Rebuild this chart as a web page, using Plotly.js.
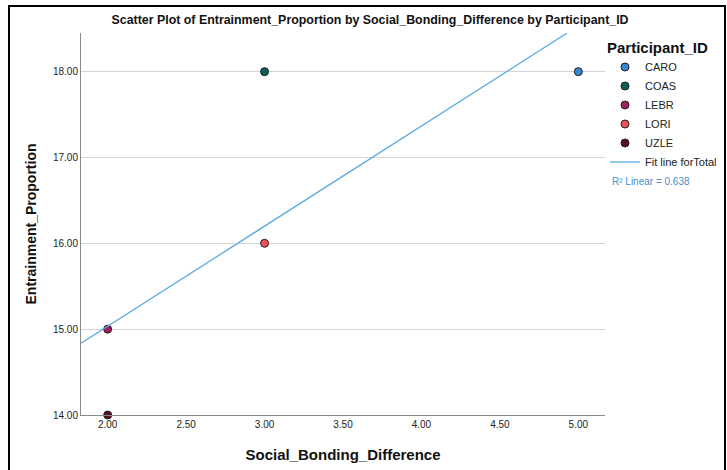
<!DOCTYPE html>
<html>
<head>
<meta charset="utf-8">
<script src="https://cdn.plot.ly/plotly-3.0.1.min.js"></script>
<style>
html,body{margin:0;padding:0;background:#fff;}
#chart{width:727px;height:470px;position:absolute;left:0;top:0;}
#frame{position:absolute;left:8px;top:5px;width:714px;height:480px;border:2px solid #000;border-bottom:none;pointer-events:none;}
</style>
</head>
<body>
<div id="chart"></div>
<div id="frame"></div>
<script>
const participants = ["CARO", "COAS", "LEBR", "LORI", "UZLE"];
const socialBonding = [5, 3, 2, 3, 2];
const entrainment = [18, 18, 15, 16, 14];
const colors = ["#3b87d1", "#0e5d56", "#a11f5c", "#ec5257", "#5a0f1c"];
const xRange = [1.83, 5.17];
const yRange = [14, 18.45];
const xTicks = [2.0, 2.5, 3.0, 3.5, 4.0, 4.5, 5.0];
const yTicks = [14, 15, 16, 17, 18];

const n = socialBonding.length;
const mx = socialBonding.reduce((a,b)=>a+b,0)/n;
const my = entrainment.reduce((a,b)=>a+b,0)/n;
let sxy=0, sxx=0, syy=0;
for(let i=0;i<n;i++){sxy+=(socialBonding[i]-mx)*(entrainment[i]-my);sxx+=(socialBonding[i]-mx)**2;syy+=(entrainment[i]-my)**2;}
const slope = sxy/sxx, intercept = my - slope*mx;
const r2 = sxy*sxy/(sxx*syy);
const xEnd = (yRange[1]-intercept)/slope;
const fitX = [xRange[0], xEnd];
const fitY = fitX.map(x=>intercept+slope*x);

const font = "Liberation Sans, Arial, sans-serif";
const traces = participants.map((p,i)=>({
  type:"scatter", mode:"markers", name:p,
  x:[socialBonding[i]], y:[entrainment[i]],
  marker:{color:colors[i], size:8, line:{color:"#222", width:1}},
  cliponaxis:false
}));
traces.push({type:"scatter", mode:"lines", name:"Fit line forTotal", x:fitX, y:fitY,
  line:{color:"#5aaadf", width:1.3}, hoverinfo:"skip"});

const layout = {
  width:727, height:470,
  margin:{l:81, r:122, t:33, b:55, autoexpand:false},
  paper_bgcolor:"#fff", plot_bgcolor:"#fff",
  title:{text:"<b>Scatter Plot of Entrainment_Proportion by Social_Bonding_Difference by Participant_ID</b>",
    font:{family:font, size:12.4, color:"#111"}, x:0.509, xanchor:"center", y:0.958, yanchor:"middle"},
  xaxis:{range:xRange, tickvals:xTicks, ticktext:xTicks.map(v=>v.toFixed(2)), showgrid:false, zeroline:false,
    showline:true, linecolor:"#8a8a8a", linewidth:1, ticks:"", tickfont:{family:font, size:10, color:"#222"},
    title:{text:"<b>Social_Bonding_Difference</b>", font:{family:font, size:15, color:"#111"}, standoff:20}},
  yaxis:{range:yRange, tickvals:yTicks, ticktext:yTicks.map(v=>v.toFixed(2)), showgrid:true, gridcolor:"#d4d4d4",
    zeroline:false, showline:true, linecolor:"#8a8a8a", linewidth:1, ticks:"", tickfont:{family:font, size:10, color:"#222"},
    title:{text:"<b>Entrainment_Proportion</b>", font:{family:font, size:14, color:"#111"}, standoff:13}},
  legend:{x:1.0, xanchor:"left", y:1.0, yanchor:"top", font:{family:font, size:11, color:"#222"},
    title:{text:"<b>Participant_ID</b>", font:{family:font, size:15, color:"#111"}}, itemwidth:30, tracegroupgap:0,
    bgcolor:"rgba(0,0,0,0)"},
  annotations:[{xref:"paper", yref:"paper", x:1.01, y:0.612, xanchor:"left", yanchor:"middle", showarrow:false,
    text:"R² Linear = "+r2.toFixed(3), font:{family:font, size:10, color:"#4a8fcc"}}],
  showlegend:true
};
Plotly.newPlot("chart", traces, layout, {displayModeBar:false, staticPlot:true});
</script>
</body>
</html>
